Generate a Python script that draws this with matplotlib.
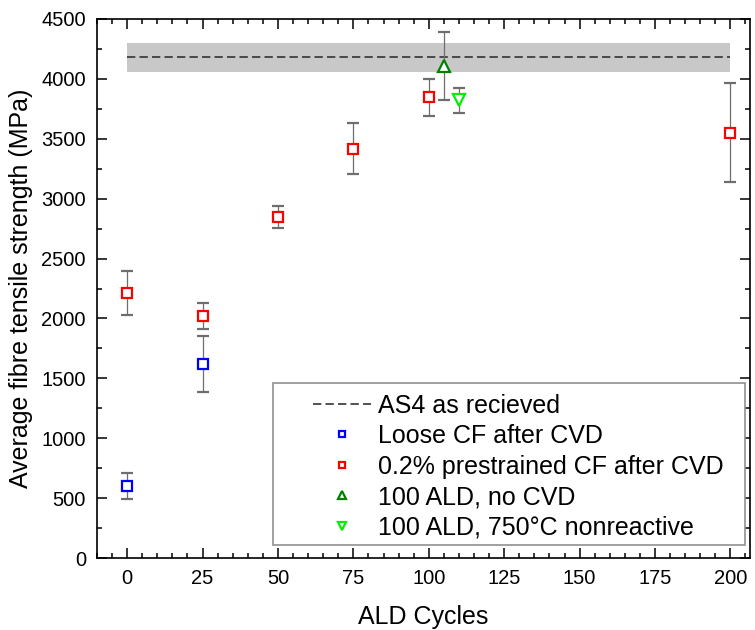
import matplotlib.pyplot as plt
from matplotlib.patches import Rectangle
from matplotlib.ticker import MultipleLocator

plt.rcParams['font.family'] = ['Liberation Sans', 'DejaVu Sans']

# datos
loose_x = [0, 25]
loose_y = [600, 1620]
loose_err = [108, 232]

pre_x = [0, 25, 50, 75, 100, 200]
pre_y = [2210, 2020, 2848, 3418, 3845, 3550]
pre_err = [185, 112, 90, 215, 157, 415]

ald_x = [105]
ald_y = [4105]
ald_err = [285]

nonreact_x = [110]
nonreact_y = [3820]
nonreact_err = [108]

as4_x = [0, 200]
as4_mean = 4180
as4_lo = 4060
as4_hi = 4297

fig = plt.figure(figsize=(7.55, 6.3), dpi=100)
ax = fig.add_axes([97/755, 1 - 558/630, 653/755, 539/630])

ax.fill_between(as4_x, as4_lo, as4_hi, color='#c8c8c8', lw=0, zorder=1)
ax.plot(as4_x, [as4_mean, as4_mean], ls=(0, (5, 2.5)), color='#333333', lw=1.2,
        label='AS4 as recieved', zorder=2)

ebar = dict(ecolor='#6e6e6e', elinewidth=0.9, capsize=4.3, capthick=0.9,
            ls='none', mfc='white', mew=1.6, zorder=3)
ax.errorbar(loose_x, loose_y, yerr=loose_err, marker='s', ms=6.5, mec='#0000ff',
            label='Loose CF after CVD', **ebar)
ax.errorbar(pre_x, pre_y, yerr=pre_err, marker='s', ms=6.5, mec='#ff0000',
            label='0.2% prestrained CF after CVD', **ebar)
ax.errorbar(ald_x, ald_y, yerr=ald_err, marker='^', ms=8.5, mec='#008000',
            label='100 ALD, no CVD', **ebar)
ax.errorbar(nonreact_x, nonreact_y, yerr=nonreact_err, marker='v', ms=8.5, mec='#00ee00',
            label='100 ALD, 750°C nonreactive', **ebar)

ax.set_xlim(-10, 206.5)
ax.set_ylim(0, 4500)
ax.xaxis.set_major_locator(MultipleLocator(25))
ax.xaxis.set_minor_locator(MultipleLocator(5))
ax.yaxis.set_major_locator(MultipleLocator(500))
ax.yaxis.set_minor_locator(MultipleLocator(250))
ax.tick_params(which='both', direction='in', top=True, right=True, width=1.1,
               labelsize=14.5, pad=8)
ax.tick_params(which='major', length=7)
ax.tick_params(which='minor', length=3.5)
for s in ax.spines.values():
    s.set_linewidth(1.2)

ax.set_xlabel('ALD Cycles', fontsize=18, labelpad=12)
ax.set_ylabel('Average fibre tensile strength (MPa)', fontsize=18, labelpad=6)

# marco de la leyenda
ax.add_patch(Rectangle((0.2695, 0.0241), 0.7228, 0.3006, transform=ax.transAxes,
                       fill=True, facecolor='white', edgecolor='#909090', lw=1.2, zorder=4))

handles, labels = ax.get_legend_handles_labels()
handles = [h if isinstance(h, plt.Line2D) else h[0] for h in handles]
leg = ax.legend(handles, labels, loc='upper left', bbox_to_anchor=(0.331, 0.305),
                frameon=False, fontsize=18, borderpad=0, borderaxespad=0,
                handlelength=2.3, handletextpad=0.3, labelspacing=0.26,
                markerscale=0.75)
leg.set_zorder(5)

fig.savefig('out.png', dpi=100)
